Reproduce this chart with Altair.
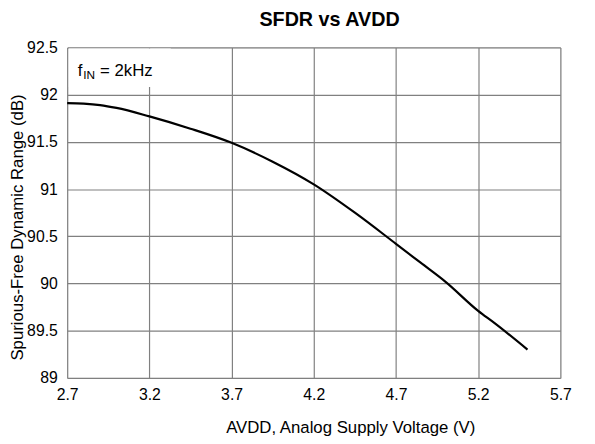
import altair as alt
import pandas as pd

# Data
avdd = [2.7, 2.8, 2.9, 3.0, 3.2, 3.45, 3.7, 3.95, 4.2, 4.45, 4.7, 4.85, 5.0, 5.2, 5.3, 5.5]
sfdr = [91.91, 91.905, 91.89, 91.86, 91.77, 91.64, 91.49, 91.29, 91.05, 90.75, 90.42, 90.22, 90.02, 89.71, 89.58, 89.3]
x_ticks = [2.7, 3.2, 3.7, 4.2, 4.7, 5.2, 5.7]
y_ticks = [89, 89.5, 90, 90.5, 91, 91.5, 92, 92.5]

df = pd.DataFrame({"avdd": avdd, "sfdr": sfdr})
FONT = "Liberation Sans"

xs = alt.Scale(domain=[2.7, 5.7], nice=False, zero=False)
ys = alt.Scale(domain=[89, 92.5], nice=False, zero=False)

line = alt.Chart(df).mark_line(color="black", strokeWidth=2.2, interpolate="monotone").encode(
    x=alt.X("avdd:Q", scale=xs,
            axis=alt.Axis(values=x_ticks, format=".1f", title="AVDD, Analog Supply Voltage (V)",
                          grid=True, gridColor="#808080", gridWidth=1.2, gridOpacity=1,
                          domain=False, ticks=False, labelFont=FONT, labelFontSize=16,
                          labelColor="black", labelPadding=9, titleFont=FONT, titleFontSize=17,
                          titleFontWeight="normal", titleColor="black",
                          titleX=287, titleY=50, titleAlign="center", titleBaseline="middle",
                          labelFlush=False)),
    y=alt.Y("sfdr:Q", scale=ys,
            axis=alt.Axis(values=y_ticks, format=".1~f", title="Spurious-Free Dynamic Range (dB)",
                          grid=True, gridColor="#808080", gridWidth=1.2, gridOpacity=1,
                          domain=False, ticks=False, labelFont=FONT, labelFontSize=16,
                          labelColor="black", labelPadding=10, titleFont=FONT, titleFontSize=17,
                          titleFontWeight="normal", titleColor="black",
                          titleX=-50, titleY=182, titleAngle=270, titleAlign="center",
                          titleBaseline="middle",
                          labelFlush=False)),
)

box_df = pd.DataFrame({"x": [2.71], "x2": [3.33], "y": [92.08], "y2": [92.49]})
box = alt.Chart(box_df).mark_rect(color="white").encode(
    x=alt.X("x:Q", scale=xs), x2="x2:Q", y=alt.Y("y:Q", scale=ys), y2="y2:Q")

lab_f = pd.DataFrame({"x": [2.765], "y": [92.25], "t": ["f"]})
lab_sub = pd.DataFrame({"x": [2.797], "y": [92.205], "t": ["IN"]})
lab_rest = pd.DataFrame({"x": [2.9], "y": [92.25], "t": ["= 2kHz"]})

def txt(d, size):
    return alt.Chart(d).mark_text(align="left", baseline="middle", font=FONT, fontSize=size,
                                  color="black").encode(
        x=alt.X("x:Q", scale=xs), y=alt.Y("y:Q", scale=ys), text="t:N")

chart = alt.layer(box, txt(lab_f, 17), txt(lab_sub, 12), txt(lab_rest, 17), line).properties(
    width=500, height=335,
    title=alt.TitleParams("SFDR vs AVDD", font=FONT, fontSize=20, fontWeight="bold",
                          color="black", anchor="middle", offset=10, dx=16, frame="group"),
    autosize=alt.AutoSizeParams(type="none"),
    padding={"left": 60, "top": 37, "right": 27, "bottom": 64},
).configure_view(stroke="black", strokeWidth=2.2).configure(background="white")

chart.save("out.html", embed_options={"renderer": "svg", "actions": False})
